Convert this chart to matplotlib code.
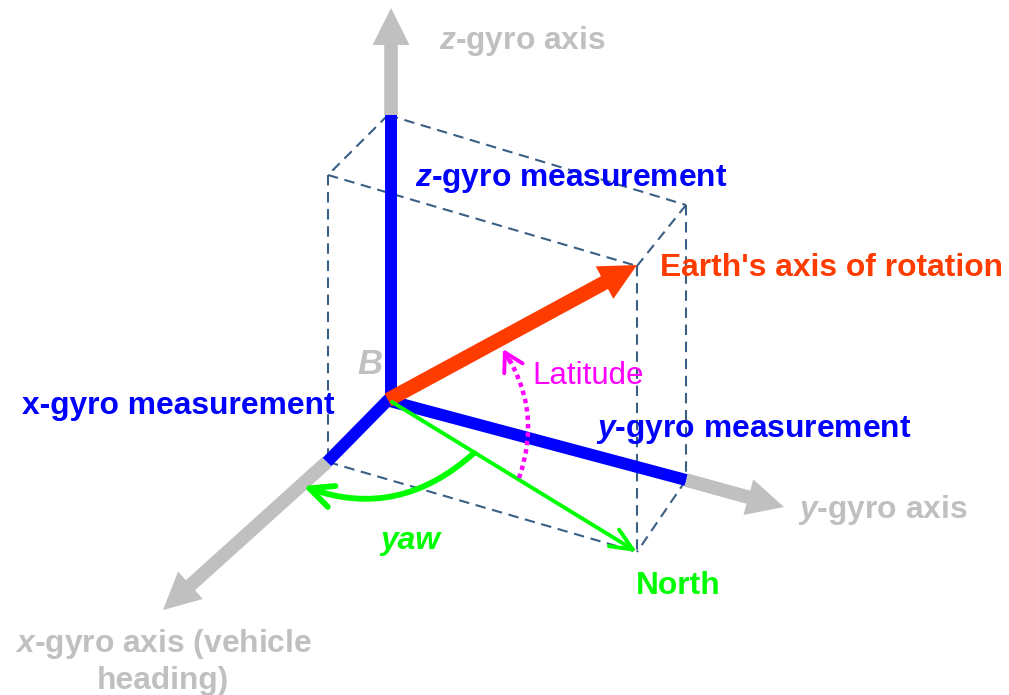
#!/usr/bin/env python3

import matplotlib
matplotlib.use('Agg')
import matplotlib.pyplot as plt
from matplotlib.patches import FancyArrowPatch

GREY = '#c0c0c0'
BLUE = '#0000ff'
RED = '#ff3c00'
GREEN = '#00ff00'
MAGENTA = '#ff00ff'
DASH = '#3a5f85'

# pixel coordinates in the picture
origin = (388, 400)
grey_axes = [((391, 115), (391, 8)), ((686, 480), (784, 507)), ((327, 462), (163, 610))]
blue_lines = [((391, 403), (391, 115)), ((386, 400), (686, 480)), ((391, 397), (327, 462))]
red_tip = (637, 265)
dashed = [((388, 115), (328, 175)), ((388, 115), (686, 205)), ((328, 175), (637, 266)),
          ((686, 205), (637, 266)), ((686, 205), (686, 480)), ((637, 266), (637, 552)),
          ((328, 175), (328, 462)), ((328, 462), (637, 552)), ((686, 480), (637, 552))]
north_tip = (637, 552)
labels = [
    (439, 41, r'$\bfit{z}$-gyro axis', GREY),
    (415, 179, r'$\bfit{z}$-gyro measurement', BLUE),
    (660, 268, "Earth's axis of rotation", RED),
    (22, 406, 'x-gyro measurement', BLUE),
    (596, 430, r'$\bfit{y}$-gyro measurement', BLUE),
    (798, 510, r'$\bfit{y}$-gyro axis', GREY),
    (636, 586, 'North', GREEN),
]


def main():
    plt.rcParams['font.family'] = ['Liberation Sans', 'DejaVu Sans']
    plt.rcParams['mathtext.fontset'] = 'custom'
    plt.rcParams['mathtext.bfit'] = 'Liberation Sans:italic:bold'
    fig = plt.figure(figsize=(10.09, 6.95), dpi=100)
    ax = fig.add_axes([0, 0, 1, 1])
    ax.set_xlim(0, 1009)
    ax.set_ylim(695, 0)
    ax.axis('off')

    for a, b in dashed:
        ax.plot([a[0], b[0]], [a[1], b[1]], color=DASH, lw=1.5, ls=(0, (5, 3.2)), zorder=1)

    for a, b in grey_axes:
        ax.add_patch(FancyArrowPatch(a, b, arrowstyle='simple,head_width=19,head_length=19,tail_width=7',
                                     mutation_scale=1.4, color=GREY, lw=0, shrinkA=0, shrinkB=0, zorder=2))

    for a, b in blue_lines:
        ax.plot([a[0], b[0]], [a[1], b[1]], color=BLUE, lw=8.6, solid_capstyle='butt', zorder=3)

    ax.add_patch(FancyArrowPatch(origin, red_tip, arrowstyle='simple,head_width=19,head_length=19,tail_width=7.5',
                                 mutation_scale=1.4, color=RED, lw=0, shrinkA=0, shrinkB=0, zorder=4))

    # green north line and yaw arc
    ax.add_patch(FancyArrowPatch((392, 402), north_tip, arrowstyle='->,head_width=7,head_length=16',
                                 color=GREEN, lw=2.8, shrinkA=0, shrinkB=0, zorder=4))
    ax.add_patch(FancyArrowPatch((474, 453), (303, 486), connectionstyle='arc3,rad=-0.3',
                                 arrowstyle='->,head_width=8,head_length=17',
                                 color=GREEN, lw=4.2, shrinkA=0, shrinkB=0, zorder=4))
    # latitude arc, dotted, with a solid head on top
    ax.add_patch(FancyArrowPatch((519, 478), (503, 349), connectionstyle='arc3,rad=0.25',
                                 arrowstyle='-', color=MAGENTA, lw=3.2, ls=(0, (1, 0.9)),
                                 capstyle='butt', shrinkA=0, shrinkB=0, zorder=4))
    ax.add_patch(FancyArrowPatch((510, 362), (503, 349), arrowstyle='->,head_width=7.5,head_length=13',
                                 color=MAGENTA, lw=2.8, shrinkA=0, shrinkB=0, zorder=4))

    for x, y, s, c in labels:
        ax.text(x, y, s, color=c, fontsize=22.9, fontweight='bold', va='center', ha='left', zorder=5)
    ax.text(370, 365, 'B', color=GREY, fontsize=25, fontweight='bold', style='italic', va='center', ha='center')
    ax.text(532, 376, 'Latitude', color=MAGENTA, fontsize=22.5, va='center', ha='left', zorder=5)
    ax.text(380, 541, 'yaw', color=GREEN, fontsize=22.9, fontweight='bold', style='italic', va='center', ha='left')
    ax.text(163.5, 644, r'$\bfit{x}$-gyro axis (vehicle', color=GREY, fontsize=22.9, fontweight='bold', va='center', ha='center')
    ax.text(163, 681, 'heading)', color=GREY, fontsize=22.9, fontweight='bold', va='center', ha='center')

    fig.savefig('out.png', dpi=100)


if __name__ == "__main__":
    main()
